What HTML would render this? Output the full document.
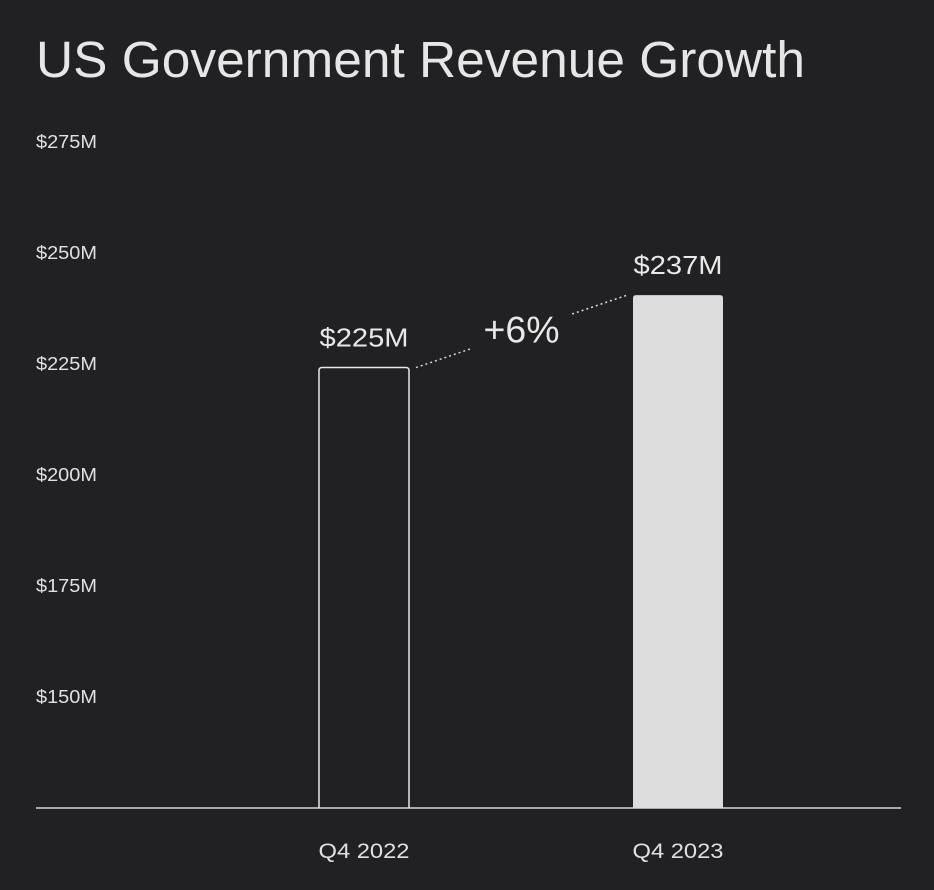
<!DOCTYPE html>
<html><head><meta charset="utf-8"><style>
html,body{margin:0;padding:0;background:#212124;}
svg{display:block;font-family:"Liberation Sans",sans-serif;}
</style></head><body>
<svg id="chart" width="934" height="890">
<text x="36" y="77" fill="#e6e6e6" font-size="51" textLength="769" lengthAdjust="spacingAndGlyphs">US Government Revenue Growth</text>
</svg>
<script>
const categories = ["Q4 2022", "Q4 2023"];
const values = [224.2, 240.5];
const valueLabels = ["$225M", "$237M"];
const ticks = [150, 175, 200, 225, 250, 275];
const tickLabels = ["$150M", "$175M", "$200M", "$225M", "$250M", "$275M"];
const growthLabel = "+6%";

const svg = document.getElementById('chart');
const NS = 'http://www.w3.org/2000/svg';
const y0 = 808, vMin = 125, pxPer = 111/25;
const y = v => y0 - (v - vMin) * pxPer;
const xCenters = [364, 678];
const barW = 90;
function mk(tag, attrs, text){const e=document.createElementNS(NS,tag);for(const k in attrs)e.setAttribute(k,attrs[k]);if(text!==undefined)e.textContent=text;svg.appendChild(e);return e;}

ticks.forEach((t,i)=>{
  const e = mk('text',{x:36,y:y(t)+6,fill:'#e0e0e0','font-size':18.5,textLength:61,lengthAdjust:'spacingAndGlyphs'},tickLabels[i]);
  
  
});
const base = mk('line',{x1:36,x2:901,y1:y0,y2:y0,stroke:'#d8d8d8','stroke-width':1.5});



const tops=[];
values.forEach((v,i)=>{
  const top=y(v); tops.push(top);
  const x=xCenters[i]-barW/2;
  const d=`M${x},${y0} V${top+3} Q${x},${top} ${x+3},${top} H${x+barW-3} Q${x+barW},${top} ${x+barW},${top+3} V${y0}`;
  const b = mk('path', i===0?{d,fill:'none',stroke:'#e8e8e8','stroke-width':1.5}:{d,fill:'#dcdcdc'});
  
  
  const l = mk('text',{x:xCenters[i],y:top-21,fill:'#e8e8e8','font-size':26,'text-anchor':'middle',textLength:89,lengthAdjust:'spacingAndGlyphs'},valueLabels[i]);
  
  
  const c = mk('text',{x:xCenters[i],y:858,fill:'#e0e0e0','font-size':21,'text-anchor':'middle',textLength:91,lengthAdjust:'spacingAndGlyphs'},categories[i]);
  
  
});
const x1=xCenters[0]+barW/2+7, x2=xCenters[1]-barW/2-6, ya=tops[0], yb=tops[1];
const mx=(x1+x2)/2;
const at=t=>[x1+(x2-x1)*t, ya+(yb-ya)*t];
const p1=at(0.26), p2=at(0.74);
const l1=mk('line',{x1:x1,y1:ya,x2:p1[0],y2:p1[1],stroke:'#d8d8d8','stroke-width':1.5,'stroke-dasharray':'2 3'});


const l2=mk('line',{x1:p2[0],y1:p2[1],x2:x2,y2:yb,stroke:'#d8d8d8','stroke-width':1.5,'stroke-dasharray':'2 3'});


const g=mk('text',{x:mx,y:(ya+yb)/2+11,fill:'#e8e8e8','font-size':37,'text-anchor':'middle',textLength:76,lengthAdjust:'spacingAndGlyphs'},growthLabel);


</script>
</body></html>
